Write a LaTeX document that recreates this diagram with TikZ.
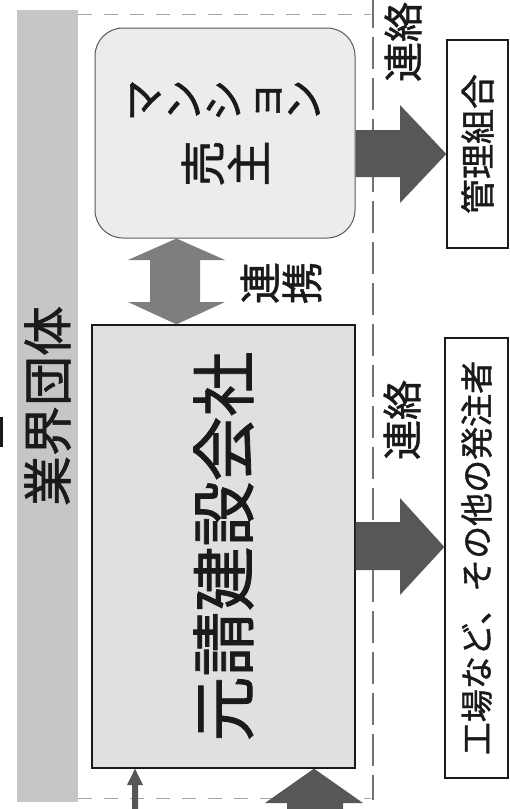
\documentclass[tikz,border=0pt]{standalone}
\usepackage{fontspec}
\usepackage{graphicx}
\newfontfamily\jp[FakeBold=1.2]{Noto Sans CJK JP}
\newcommand\jfs[1]{\fontsize{#1}{#1}\selectfont}
\usetikzlibrary{calc}
\definecolor{bandgray}{HTML}{C6C6C6}
\definecolor{sellerfill}{HTML}{ECECEC}
\definecolor{genfill}{HTML}{E0E0E0}
\definecolor{midarrow}{HTML}{7E7E7E}
\definecolor{darkarrow}{HTML}{575757}
\definecolor{inkcol}{HTML}{1A1A1A}
\begin{document}
\begin{tikzpicture}[x=1pt,y=-1pt,
  every node/.style={font=\jp, text=inkcol, inner sep=0pt},
  bandbox/.style={fill=bandgray, minimum width=61pt, minimum height=792pt},
  sellerbox/.style={draw=black!65, line width=1pt, fill=sellerfill, rounded corners=28pt, minimum width=260pt, minimum height=210pt},
  genbox/.style={draw=inkcol, line width=1.3pt, fill=genfill, minimum width=263pt, minimum height=443pt},
  whitebox/.style={draw=inkcol, line width=1.3pt, fill=white},
  midarr/.style={fill=midarrow},
  darkarr/.style={fill=darkarrow},
  vdash/.style={draw=black!55, line width=1.4pt, dash pattern=on 32pt off 9pt},
  hdash/.style={draw=black!35, line width=1pt, dash pattern=on 14pt off 12pt}]
\useasboundingbox (0,0) rectangle (509,809);
\clip (0,0) rectangle (509,809);

% industry band
\node[bandbox] (band) at (47.5,406) {\rotatebox{90}{\jfs{50}業界団体}};

% dashed frame
\draw[hdash] (band.east |- 0,14) -- (371,14);
\draw[hdash] (band.east |- 0,798) -- (371,798);
\draw[vdash] (373,-4) -- (373,800);

% main boxes
\node[sellerbox] (seller) at (225,133) {\rotatebox{90}{\parbox[c]{48pt}{\centering\jfs{46}売\\主}\hspace{17pt}\parbox[c]{44pt}{\centering\fontsize{42}{40}\selectfont マ\\ン\\シ\\ョ\\ン}}};
\node[genbox] (genkon) at (223.5,546.5) {\rotatebox{90}{\jfs{65}元請建設会社}};

% right boxes
\node[whitebox, minimum width=61pt, minimum height=208pt] (kanri) at (477.5,144) {\rotatebox{90}{\jfs{35}管理組合}};
\node[whitebox, minimum width=63pt, minimum height=440pt] (other) at (476.5,558) {\rotatebox{90}{\jfs{33}工場など、その他の発注者}};

% labels
\node (rl1) at (403,42) {\rotatebox{90}{\jfs{40}連絡}};
\node (rl2) at (402,420) {\rotatebox{90}{\jfs{40}連絡}};
\node (rk) at (281,283) {\rotatebox{90}{\parbox[c]{44pt}{\centering\fontsize{42}{42}\selectfont 連\\携}}};

% double arrow between seller and contractor
\fill[midarr] (seller.south -| 176.5,0) -- (225,260) -- (200,260) -- (200,302) -- (225,302)
  -- (genkon.north -| 176.5,0) -- (128,302) -- (150,302) -- (150,260) -- (128,260) -- cycle;

% right arrows
\fill[darkarr] (seller.east |- 0,130) -- (400,130) -- (400,105) -- (kanri.west |- 0,154)
  -- (400,203) -- (400,177) -- (seller.east |- 0,177) -- cycle;
\fill[darkarr] (genkon.east |- 0,522) -- (400,522) -- (400,498) -- (other.west |- 0,547)
  -- (400,595) -- (400,570) -- (genkon.east |- 0,570) -- cycle;

% bottom arrows
\fill[darkarr] (genkon.south -| 135,0) -- (143,785) -- (138,785) -- (138,812) -- (132,812)
  -- (132,785) -- (127,785) -- cycle;
\fill[darkarr] (genkon.south -| 314,0) -- (363,803) -- (343,803) -- (343,812) -- (287,812)
  -- (287,803) -- (265,803) -- cycle;

% cut-off mark at left edge
\fill[inkcol] (0,417) rectangle (3,447);
\end{tikzpicture}
\end{document}
